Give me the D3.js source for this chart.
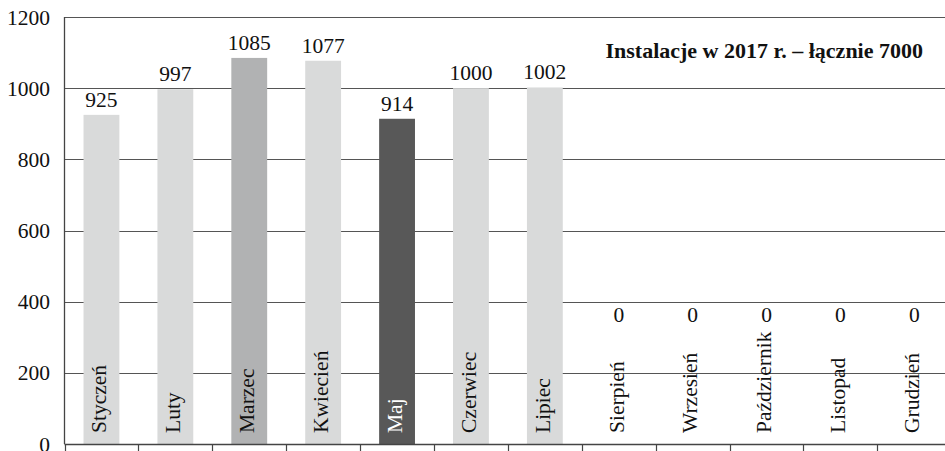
<!DOCTYPE html>
<html>
<head>
<meta charset="utf-8">
<script src="https://cdn.jsdelivr.net/npm/d3@7/dist/d3.min.js"></script>
<style>
  html, body { margin: 0; padding: 0; background: #fff; }
  svg { display: block; }
  svg text { font-family: "Liberation Serif", "Times New Roman", serif; }
</style>
</head>
<body>
<svg id="chart" width="945" height="451"></svg>
<script>
// Monthly installations in 2017
const months = ["Styczeń", "Luty", "Marzec", "Kwiecień", "Maj", "Czerwiec",
                "Lipiec", "Sierpień", "Wrzesień", "Październik", "Listopad", "Grudzień"];
const installs = [925, 997, 1085, 1077, 914, 1000, 1002, 0, 0, 0, 0, 0];
const barShade = ["light", "light", "mid", "light", "dark", "light",
                  "light", "light", "light", "light", "light", "light"];
const yTicks = [0, 200, 400, 600, 800, 1000, 1200];
const title = "Instalacje w 2017 r. – łącznie 7000";

const shadeColor = { light: "#d9dada", mid: "#b1b2b3", dark: "#585858" };
const textOnBar = { light: "#111", mid: "#111", dark: "#fff" };

const svg = d3.select("#chart");
const margin = { left: 64.5, top: 17, bottom: 444, right: 951.3 };
const fontSize = 21.5;

const x = d3.scaleBand()
  .domain(months)
  .range([margin.left, margin.right])
  .paddingInner(0.515)
  .paddingOuter(0.2575);

const y = d3.scaleLinear()
  .domain([0, 1200])
  .range([margin.bottom, margin.top]);

// horizontal gridlines
svg.append("g")
  .selectAll("line")
  .data(yTicks.filter(t => t > 0))
  .join("line")
  .attr("x1", margin.left).attr("x2", 945)
  .attr("y1", d => Math.round(y(d)) + 0.5).attr("y2", d => Math.round(y(d)) + 0.5)
  .attr("stroke", "#555").attr("stroke-width", 1.2);

// y tick labels
svg.append("g")
  .selectAll("text")
  .data(yTicks)
  .join("text")
  .attr("x", 50)
  .attr("y", d => y(d) + 7.5)
  .attr("text-anchor", "end")
  .attr("font-size", fontSize)
  .attr("fill", "#111")
  .text(d => d);

const data = months.map((m, i) => ({ month: m, value: installs[i], shade: barShade[i] }));

// bars
svg.append("g")
  .selectAll("rect")
  .data(data.filter(d => d.value > 0))
  .join("rect")
  .attr("x", d => x(d.month))
  .attr("width", x.bandwidth())
  .attr("y", d => y(d.value))
  .attr("height", d => y(0) - y(d.value))
  .attr("fill", d => shadeColor[d.shade]);

// axis lines
svg.append("line")
  .attr("x1", margin.left).attr("x2", margin.left)
  .attr("y1", margin.top).attr("y2", margin.bottom)
  .attr("stroke", "#444").attr("stroke-width", 1.3);
svg.append("line")
  .attr("x1", margin.left).attr("x2", 945)
  .attr("y1", margin.bottom + 0.5).attr("y2", margin.bottom + 0.5)
  .attr("stroke", "#444").attr("stroke-width", 1.6);

// category boundary ticks below the axis
const boundaries = months.map(m => x(m) + x.bandwidth() / 2 - x.step() / 2);
svg.append("g")
  .selectAll("line")
  .data(boundaries)
  .join("line")
  .attr("x1", d => Math.round(d) + 0.5).attr("x2", d => Math.round(d) + 0.5)
  .attr("y1", margin.bottom).attr("y2", 451)
  .attr("stroke", "#444").attr("stroke-width", 1.2);

// value labels above the bars (empty months sit at a fixed floor)
svg.append("g")
  .selectAll("text")
  .data(data)
  .join("text")
  .attr("x", d => x(d.month) + x.bandwidth() / 2)
  .attr("y", d => y(Math.max(d.value, 320)) - 8)
  .attr("text-anchor", "middle")
  .attr("font-size", fontSize)
  .attr("fill", "#111")
  .text(d => d.value);

// rotated month names at the base of each bar
svg.append("g")
  .selectAll("text")
  .data(data)
  .join("text")
  .attr("transform", d => `translate(${x(d.month) + x.bandwidth() / 2 + 4.8},${y(0) - 11}) rotate(-90)`)
  .attr("text-anchor", "start")
  .attr("font-size", fontSize)
  .attr("fill", d => textOnBar[d.shade])
  .text(d => d.month);

// chart title
svg.append("text")
  .attr("x", 923)
  .attr("y", 58)
  .attr("text-anchor", "end")
  .attr("font-size", 22)
  .attr("font-weight", "bold")
  .attr("fill", "#111")
  .text(title);
</script>
</body>
</html>
